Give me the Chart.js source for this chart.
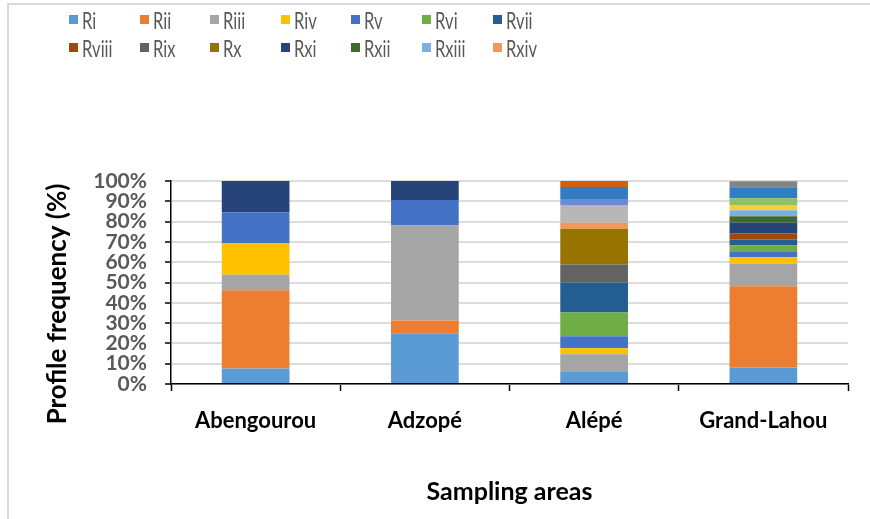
<!DOCTYPE html>
<html>
<head>
<meta charset="utf-8">
<script src="https://cdn.jsdelivr.net/npm/chart.js@4/dist/chart.umd.min.js"></script>
<style>
  body { margin: 0; background: #fff; }
  #wrap { position: relative; width: 870px; height: 519px; }
  #frame { position: absolute; left: 7px; top: 3px; right: 0; bottom: 0;
           border-left: 2px solid #D9D9D9; border-top: 2px solid #D9D9D9; pointer-events: none; }
  #legend { position: absolute; left: 0; top: 0; width: 870px; height: 70px; }
  .item { position: absolute; height: 24px; }
  .box { position: absolute; left: 0; top: 7px; width: 9px; height: 9px; }
  .lbl { position: absolute; left: 13px; top: 0; font: 23px Lato, sans-serif; color: #595959;
         line-height: 24px; transform: scaleX(0.72); transform-origin: left center; white-space: nowrap; }
</style>
</head>
<body>
<div id="wrap">
  <canvas id="myChart" width="870" height="519"></canvas>
  <div id="legend"></div>
  <div id="frame"></div>
</div>
<script>
var areas = ['Abengourou', 'Adzopé', 'Alépé', 'Grand-Lahou'];

// profile frequency (%) per area
var Ri     = [7.69, 25.00, 5.88, 8.1];
var Rii    = [38.46, 6.25, 0, 40.1];
var Riii   = [7.69, 46.88, 8.82, 11.2];
var Riv    = [15.38, 0, 2.94, 3.0];
var Rv     = [15.38, 12.50, 5.88, 3.0];
var Rvi    = [0, 0, 11.76, 2.8];
var Rvii   = [0, 0, 14.71, 3.0];
var Rviii  = [0, 0, 0, 3.0];
var Rix    = [0, 0, 8.82, 0];
var Rx     = [0, 0, 17.65, 0];
var Rxi    = [15.38, 9.38, 0, 5.4];
var Rxii   = [0, 0, 0, 3.0];
var Rxiii  = [0, 0, 0, 3.0];
var Rxiv   = [0, 0, 2.94, 0];
var Rxv    = [0, 0, 8.82, 0];
var Rxvi   = [0, 0, 0, 2.6];
var Rxvii  = [0, 0, 2.94, 0];
var Rxviii = [0, 0, 0, 3.3];
var Rxix   = [0, 0, 5.88, 5.4];
var Rxx    = [0, 0, 2.94, 0];
var Rxxi   = [0, 0, 0, 3.0];

var yTicks = ['0%', '10%', '20%', '30%', '40%', '50%', '60%', '70%', '80%', '90%', '100%'];

var series = [
  ['Ri', Ri, '#5B9BD5'], ['Rii', Rii, '#ED7D31'], ['Riii', Riii, '#A5A5A5'],
  ['Riv', Riv, '#FFC000'], ['Rv', Rv, '#4472C4'], ['Rvi', Rvi, '#70AD47'],
  ['Rvii', Rvii, '#255E91'], ['Rviii', Rviii, '#9E480E'], ['Rix', Rix, '#636363'],
  ['Rx', Rx, '#997300'], ['Rxi', Rxi, '#264478'], ['Rxii', Rxii, '#43682B'],
  ['Rxiii', Rxiii, '#7CAFDD'], ['Rxiv', Rxiv, '#F1975A'], ['Rxv', Rxv, '#B7B7B7'],
  ['Rxvi', Rxvi, '#FFCD33'], ['Rxvii', Rxvii, '#698ED0'], ['Rxviii', Rxviii, '#8CC168'],
  ['Rxix', Rxix, '#327DC2'], ['Rxx', Rxx, '#D26012'], ['Rxxi', Rxxi, '#848484']
];

var data = {
  labels: areas,
  datasets: series.map(function (s) {
    return {
      label: s[0],
      data: s[1],
      backgroundColor: s[2],
      borderWidth: 0,
      categoryPercentage: 1,
      barPercentage: 0.4
    };
  })
};

// rotated y title, placed like the original
var yTitle = {
  id: 'yTitle',
  afterDraw: function (chart) {
    var ctx = chart.ctx;
    ctx.save();
    ctx.translate(58, 304);
    ctx.rotate(-Math.PI / 2);
    ctx.font = 'bold 26px Lato, sans-serif';
    ctx.fillStyle = '#000';
    ctx.textAlign = 'center';
    ctx.textBaseline = 'middle';
    ctx.fillText('Profile frequency (%)', 0, 0);
    ctx.restore();
  }
};

var config = {
  type: 'bar',
  data: data,
  options: {
    responsive: false,
    animation: false,
    layout: { padding: { top: 181, right: 22, bottom: 9, left: 0 } },
    plugins: {
      legend: { display: false },
      tooltip: { enabled: false }
    },
    scales: {
      x: {
        stacked: true,
        afterFit: function (s) { s.height = 126; },
        grid: { display: true, drawOnChartArea: false, offset: true, tickLength: 7, tickColor: '#000', tickWidth: 1.5 },
        border: { color: '#000', width: 1.5 },
        ticks: { color: '#000', padding: 17, font: { family: 'Lato', size: 22, weight: 'bold' } },
        title: { display: true, text: 'Sampling areas', color: '#000',
                 font: { family: 'Lato', size: 25, weight: 'bold' }, padding: { top: 4, bottom: 3 } }
      },
      y: {
        stacked: true,
        min: 0,
        max: 100,
        afterFit: function (s) { s.width = 171; },
        grid: { color: '#DCDCDC', lineWidth: 2, tickLength: 6, tickColor: '#000', tickWidth: 1.5 },
        border: { color: '#000', width: 1.5 },
        ticks: {
          stepSize: 10,
          autoSkip: false,
          padding: 18,
          color: '#595959',
          font: { family: 'Lato', size: 21, weight: 'bold' },
          callback: function (v) { return yTicks[Math.round(v / 10)]; }
        }
      }
    }
  },
  plugins: [yTitle]
};

var myChart = new Chart(document.getElementById('myChart'), config);

// legend: first 14 series, 7 per row
var leg = document.getElementById('legend');
myChart.data.datasets.slice(0, 14).forEach(function (ds, i) {
  var col = i % 7, row = Math.floor(i / 7);
  var it = document.createElement('div');
  it.className = 'item';
  it.style.left = (69 + col * 70.6) + 'px';
  it.style.top = (8 + row * 28) + 'px';
  it.innerHTML = '<span class="box" style="background:' + ds.backgroundColor + '"></span><span class="lbl">' + ds.label + '</span>';
  leg.appendChild(it);
});
</script>
</body>
</html>
